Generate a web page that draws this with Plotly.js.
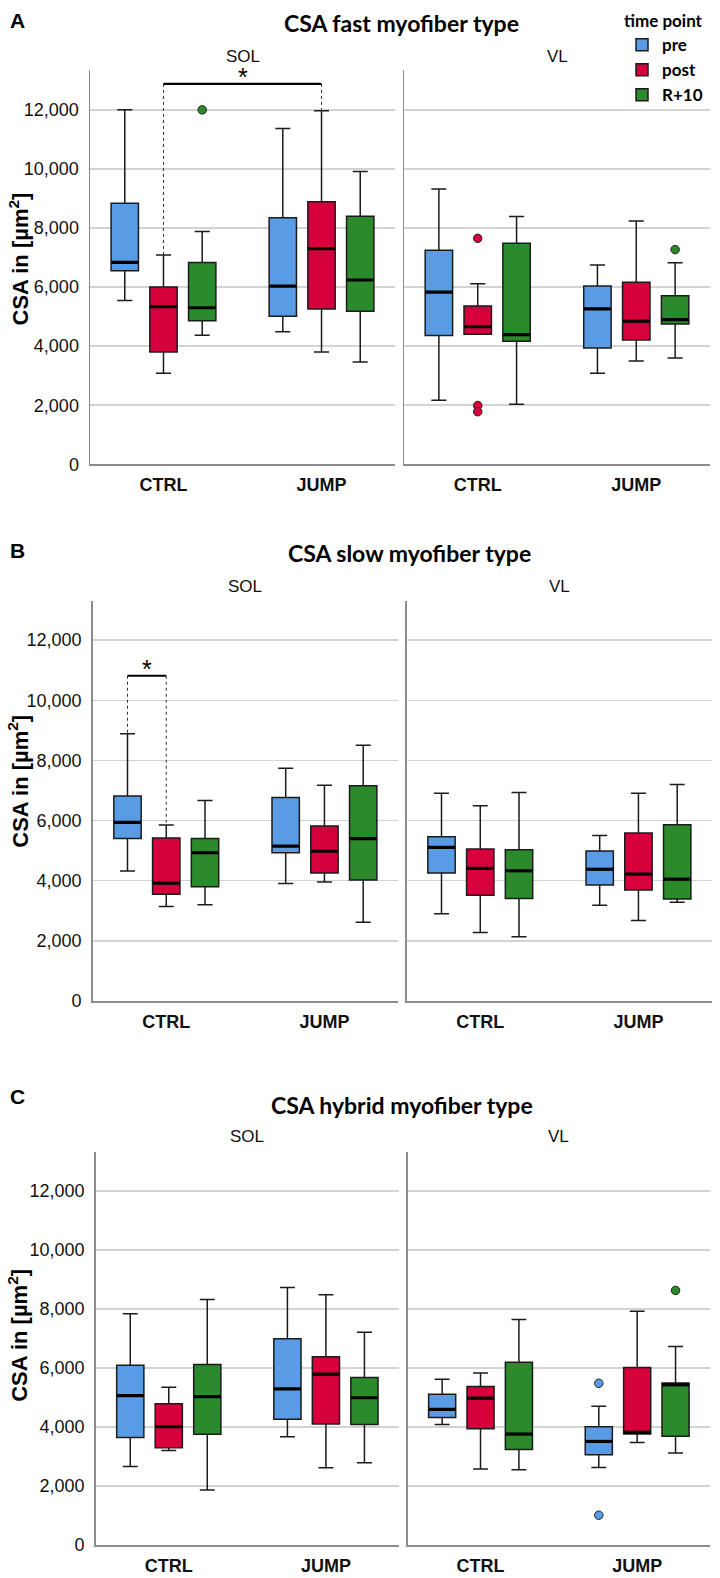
<!DOCTYPE html>
<html><head><meta charset="utf-8">
<script src="https://cdn.plot.ly/plotly-3.0.1.min.js"></script>
<style>html,body{margin:0;padding:0;background:#fff}</style>
</head><body><div id="chart" style="width:720px;height:1578px"></div>
<script>
// ---------------- DATA ----------------
const categories = ['CTRL', 'JUMP'];
const timePoints = ['pre', 'post', 'R+10'];
const muscles = ['SOL', 'VL'];
const panelTitles = ['CSA fast myofiber type', 'CSA slow myofiber type', 'CSA hybrid myofiber type'];
const panelLetters = ['A', 'B', 'C'];
const yTickVals = [0, 2000, 4000, 6000, 8000, 10000, 12000];
const yAxisTitle = 'CSA in [µm<sup>2</sup>]';

// each: [CTRL, JUMP] x [lower whisker, Q1, median, Q3, upper whisker]  (µm²)
const fastSOL_pre  = [[5550, 6550, 6840, 8840, 12000], [4490, 5010, 6030, 8350, 11370]];
const fastSOL_post = [[3080, 3800, 5340, 6000, 7090],  [3800, 5260, 7300, 8890, 11970]];
const fastSOL_r10  = [[4370, 4860, 5300, 6830, 7880],  [3460, 5180, 6240, 8400, 9910]];
const fastVL_pre   = [[2170, 4360, 5830, 7250, 9320],  [3080, 3940, 5260, 6040, 6750]];
const fastVL_post  = [[4400, 4400, 4660, 5360, 6110],  [3500, 4210, 4850, 6160, 8240]];
const fastVL_r10   = [[2030, 4170, 4390, 7480, 8390],  [3600, 4750, 4900, 5710, 6820]];

const slowSOL_pre  = [[4320, 5400, 5940, 6820, 8890],  [3910, 4930, 5150, 6770, 7740]];
const slowSOL_post = [[3140, 3550, 3920, 5420, 5850],  [3960, 4260, 4980, 5820, 7170]];
const slowSOL_r10  = [[3200, 3800, 4930, 5400, 6670],  [2620, 4020, 5400, 7160, 8500]];
const slowVL_pre   = [[2900, 4260, 5110, 5460, 6910],  [3180, 3860, 4380, 4990, 5500]];
const slowVL_post  = [[2280, 3520, 4410, 5050, 6490],  [2680, 3690, 4220, 5590, 6910]];
const slowVL_r10   = [[2140, 3410, 4330, 5030, 6930],  [3280, 3390, 4050, 5860, 7200]];

const hybridSOL_pre  = [[2660, 3640, 5060, 6090, 7840], [3670, 4260, 5290, 6990, 8730]];
const hybridSOL_post = [[3200, 3300, 4010, 4790, 5350], [2620, 4100, 5790, 6380, 8480]];
const hybridSOL_r10  = [[1860, 3750, 5030, 6120, 8320], [2790, 4080, 4990, 5680, 7210]];
const hybridVL_pre   = [[4080, 4320, 4600, 5110, 5620], [2630, 3060, 3510, 4010, 4700]];
const hybridVL_post  = [[2580, 3940, 4980, 5370, 5830], [3470, 3760, 3820, 6020, 7920]];
const hybridVL_r10   = [[2550, 3240, 3760, 6190, 7640], [3120, 3690, 5430, 5490, 6730]];

// outliers: [time point, category, value]
const fastSOL_outliers   = [['R+10', 'CTRL', 12000]];
const fastVL_outliers    = [['post', 'CTRL', 7650], ['post', 'CTRL', 1990], ['post', 'CTRL', 1780], ['R+10', 'JUMP', 7270]];
const slowSOL_outliers   = [];
const slowVL_outliers    = [];
const hybridSOL_outliers = [];
const hybridVL_outliers  = [['pre', 'JUMP', 5480], ['pre', 'JUMP', 1010], ['R+10', 'JUMP', 8630]];

// significance brackets: [from (cat, time), to (cat, time), bracket height]
const fastSOL_sig = [['CTRL', 'post', 'JUMP', 'post', 12880]];
const slowSOL_sig = [['CTRL', 'pre', 'CTRL', 'post', 10815]];

// ---------------- STRUCTURE ----------------
const panelData = [
  [[fastSOL_pre, fastSOL_post, fastSOL_r10], [fastVL_pre, fastVL_post, fastVL_r10]],
  [[slowSOL_pre, slowSOL_post, slowSOL_r10], [slowVL_pre, slowVL_post, slowVL_r10]],
  [[hybridSOL_pre, hybridSOL_post, hybridSOL_r10], [hybridVL_pre, hybridVL_post, hybridVL_r10]]
];
const panelOutliers = [[fastSOL_outliers, fastVL_outliers], [slowSOL_outliers, slowVL_outliers], [hybridSOL_outliers, hybridVL_outliers]];
const panelSig = [[fastSOL_sig, []], [slowSOL_sig, []], [[], []]];

// ---------------- STYLE / LAYOUT ----------------
const W = 720, H = 1578;
const colors = ['#5a9be6', '#d6003c', '#2a8a2c'];
const offsets = [-0.245, 0, 0.245];
const boxW = 0.173;
const FONT = 'Liberation Sans, Arial, sans-serif';
const TFONT = 'Lato, Open Sans, sans-serif';
const rows = [
  {ybot: 464.3, ytop: 70,  ymax: 13350, xl: [90, 395],    xr: [404, 710],   tX: 401, tY: 23,   lY: 21,   sY: 56,    yT: 259.5},
  {ybot: 1001,  ytop: 601, ymax: 13300, xl: [92.7, 398],  xr: [406.7, 712], tX: 409, tY: 553,  lY: 550,  sY: 586.5, yT: 781.7},
  {ybot: 1545,  ytop: 1152, ymax: 13320, xl: [95.7, 399], xr: [407.7, 710], tX: 402, tY: 1105, lY: 1096, sY: 1136.7, yT: 1335.8}
];
const PX = p => p / W;
const PY = p => 1 - p / H;

const traces = [];
const shapes = [];
const annotations = [];
const layout = {
  width: W, height: H,
  margin: {l: 0, r: 0, t: 0, b: 0},
  paper_bgcolor: '#fff', plot_bgcolor: 'rgba(0,0,0,0)',
  showlegend: true,
  boxmode: 'overlay',
  legend: {
    x: PX(622), xanchor: 'left', y: PY(5), yanchor: 'top',
    title: {text: '<b>time point</b>', font: {family: TFONT, size: 17, color: '#000'}},
    font: {family: TFONT, size: 17, color: '#000', weight: 'bold'},
    bgcolor: 'rgba(0,0,0,0)', tracegroupgap: 0, itemwidth: 30
  },
  font: {family: FONT, color: '#000'}
};

let ax = 0;
rows.forEach((row, r) => {
  [0, 1].forEach(m => {
    ax += 1;
    const xa = 'x' + (ax === 1 ? '' : ax), ya = 'y' + (ax === 1 ? '' : ax);
    const xd = m === 0 ? row.xl : row.xr;
    layout['xaxis' + (ax === 1 ? '' : ax)] = {
      domain: [PX(xd[0]), PX(xd[1])], anchor: ya,
      range: [-0.465, 1.465], tickvals: [0, 1], ticktext: categories,
      showline: true, linecolor: '#8c8c8c', linewidth: 1.5, mirror: false,
      showgrid: false, zeroline: false, ticks: '', ticklabelstandoff: 4,
      tickfont: {family: FONT, size: 18, color: '#111', weight: 'bold'}, fixedrange: true
    };
    layout['yaxis' + (ax === 1 ? '' : ax)] = {
      domain: [PY(row.ybot), PY(row.ytop)], anchor: xa,
      range: [0, row.ymax], tickvals: yTickVals, tickformat: ',d',
      showline: true, linecolor: '#8c8c8c', linewidth: 1.5,
      showgrid: true, gridcolor: '#d3d3d3', gridwidth: 1.5, zeroline: false,
      ticks: '', ticklabelstandoff: 6, showticklabels: m === 0,
      tickfont: {family: FONT, size: 18, color: '#111'}, fixedrange: true
    };
    const data = panelData[r][m];
    data.forEach((series, t) => {
      const xs = categories.map((c, i) => i + offsets[t]);
      traces.push({
        type: 'box', xaxis: xa, yaxis: ya,
        name: timePoints[t], legendgroup: timePoints[t], showlegend: r === 0 && m === 0,
        x: xs,
        lowerfence: series.map(s => s[0]), q1: series.map(s => s[1]), median: series.map(s => s[2]),
        q3: series.map(s => s[3]), upperfence: series.map(s => s[4]),
        width: boxW, whiskerwidth: 0.55, boxpoints: false,
        fillcolor: colors[t], line: {color: '#1b1b1b', width: 1.5},
        hoverinfo: 'skip'
      });
      // thick median bar
      traces.push({
        type: 'scatter', mode: 'markers', xaxis: xa, yaxis: ya, showlegend: false, hoverinfo: 'skip',
        x: xs, y: series.map(s => s[2]),
        marker: {symbol: 'line-ew', size: 19, color: '#000', line: {color: '#000', width: 3.2}}
      });
    });
    // outliers
    const outs = panelOutliers[r][m];
    timePoints.forEach((tp, t) => {
      const pts = outs.filter(o => o[0] === tp);
      if (!pts.length) return;
      traces.push({
        type: 'scatter', mode: 'markers', xaxis: xa, yaxis: ya, showlegend: false, hoverinfo: 'skip',
        x: pts.map(o => categories.indexOf(o[1]) + offsets[t]), y: pts.map(o => o[2]),
        marker: {symbol: 'circle', size: 8.5, color: colors[t], line: {color: '#222', width: 1}}
      });
    });
    // significance brackets
    panelSig[r][m].forEach(sg => {
      const xA = categories.indexOf(sg[0]) + offsets[timePoints.indexOf(sg[1])];
      const xB = categories.indexOf(sg[2]) + offsets[timePoints.indexOf(sg[3])];
      const topA = data[timePoints.indexOf(sg[1])][categories.indexOf(sg[0])][4];
      const topB = data[timePoints.indexOf(sg[3])][categories.indexOf(sg[2])][4];
      shapes.push({type: 'line', xref: xa, yref: ya, x0: xA, x1: xA, y0: sg[4], y1: topA, line: {color: '#333', width: 1, dash: 'dot'}});
      shapes.push({type: 'line', xref: xa, yref: ya, x0: xB, x1: xB, y0: sg[4], y1: topB, line: {color: '#333', width: 1, dash: 'dot'}});
      shapes.push({type: 'line', xref: xa, yref: ya, x0: xA, x1: xB, y0: sg[4], y1: sg[4], line: {color: '#000', width: 2.2}});
      annotations.push({xref: xa, yref: ya, x: (xA + xB) / 2, y: sg[4], text: '*', showarrow: false,
        xanchor: 'center', yanchor: 'bottom', yshift: -9, font: {family: FONT, size: 25, color: '#000'}});
    });
    // subplot label
    annotations.push({xref: 'paper', yref: 'paper', x: PX((xd[0] + xd[1]) / 2), y: PY(row.sY), text: muscles[m],
      showarrow: false, xanchor: 'center', yanchor: 'middle', font: {family: FONT, size: 17, color: '#111'}});
  });
  annotations.push({xref: 'paper', yref: 'paper', x: PX(row.tX), y: PY(row.tY), text: '<b>' + panelTitles[r] + '</b>',
    showarrow: false, xanchor: 'center', yanchor: 'middle', font: {family: TFONT, size: 23, color: '#000'}});
  annotations.push({xref: 'paper', yref: 'paper', x: PX(8), y: PY(row.lY), text: '<b>' + panelLetters[r] + '</b>',
    showarrow: false, xanchor: 'left', yanchor: 'middle', font: {family: FONT, size: 21, color: '#000'}});
  annotations.push({xref: 'paper', yref: 'paper', x: PX(18), y: PY(row.yT), text: '<b>' + yAxisTitle + '</b>',
    textangle: -90, showarrow: false, xanchor: 'center', yanchor: 'middle', font: {family: FONT, size: 22, color: '#000'}});
});
layout.shapes = shapes;
layout.annotations = annotations;

Plotly.newPlot('chart', traces, layout, {staticPlot: true, displayModeBar: false});
</script></body></html>
